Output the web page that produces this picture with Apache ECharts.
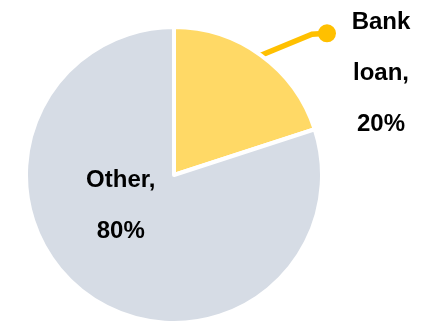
<!DOCTYPE html>
<html>
<head>
<meta charset="utf-8">
<style>
  html, body { margin: 0; padding: 0; background: #fff; }
  #chart { width: 441px; height: 324px; }
</style>
<script src="https://cdn.jsdelivr.net/npm/echarts@6/dist/echarts.min.js"></script>
</head>
<body>
<div id="chart"></div>
<script>
// data
var names = ['Bank loan', 'Other'];
var values = [20, 80];
var colors = ['#FFD966', '#D6DCE5'];

var font = "'Liberation Sans', Arial, sans-serif";

// label text: words of the name (comma after last) + percent
function labelParts(p) {
    var parts = (p.name + ',').split(' ');
    parts.push(Math.round(p.percent) + '%');
    return parts;
}

var chart = echarts.init(document.getElementById('chart'));

var txt = { fontSize: 24, fontWeight: 'bold', fontFamily: font, color: '#000' };

var option = {
    animation: false,
    series: [
        {
            type: 'pie',
            center: [174, 175],
            radius: 148,
            startAngle: 90,
            clockwise: true,
            avoidLabelOverlap: false,
            itemStyle: {
                borderColor: '#fff',
                borderWidth: 4
            },
            emphasis: { disabled: true },
            data: [
                {
                    value: values[0],
                    name: names[0],
                    itemStyle: { color: colors[0] },
                    label: {
                        show: true,
                        position: 'outside',
                        formatter: function (p) {
                            var t = labelParts(p);
                            return '{dot|}{b|' + t[0] + '}\n{sp|}{r2|' + t[1] + '}\n{sp|}{r3|' + t[2] + '}';
                        },
                        rich: {
                            dot: { width: 18, height: 18, borderRadius: 9, backgroundColor: '#FFC000', lineHeight: 46, verticalAlign: 'middle', align: 'left' },
                            sp: { width: 18, align: 'left' },
                            b: Object.assign({ width: 90, height: 24, lineHeight: 46, verticalAlign: 'top', align: 'center' }, txt),
                            r2: Object.assign({ width: 90, lineHeight: 34, align: 'center' }, txt),
                            r3: Object.assign({ width: 90, lineHeight: 68, align: 'center' }, txt)
                        }
                    },
                    labelLine: {
                        show: true,
                        length: 20,
                        length2: 20,
                        lineStyle: { color: '#FFC000', width: 5.5 }
                    }
                },
                {
                    value: values[1],
                    name: names[1],
                    itemStyle: { color: colors[1] },
                    label: {
                        show: true,
                        position: 'inside',
                        formatter: function (p) {
                            return labelParts(p).map(function (s) { return '{o|' + s + '}'; }).join('\n');
                        },
                        rich: {
                            o: Object.assign({ lineHeight: 51 }, txt)
                        }
                    },
                    labelLine: { show: false }
                }
            ],
            labelLayout: function (p) {
                if (p.dataIndex === 0 && p.labelLinePoints) {
                    var s = p.labelLinePoints[0];
                    var end = [s[0] + 66, s[1] - 22];
                    return {
                        x: end[0] - 9,
                        y: end[1] - 23,
                        align: 'left',
                        verticalAlign: 'top',
                        labelLinePoints: [s, [s[0] + 51, s[1] - 21], end]
                    };
                }
                return { dx: -8, dy: -31 };
            }
        }
    ]
};

chart.setOption(option);
</script>
</body>
</html>
